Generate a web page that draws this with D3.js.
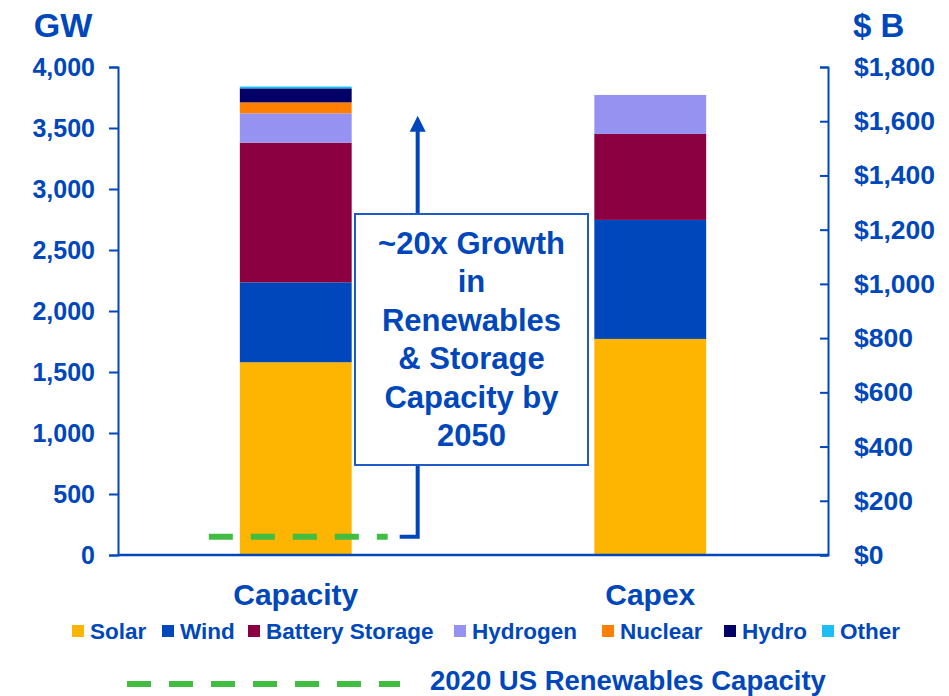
<!DOCTYPE html>
<html>
<head>
<meta charset="utf-8">
<script src="https://cdn.jsdelivr.net/npm/d3@7"></script>
<style>
  html, body { margin: 0; padding: 0; background: #fff; }
  svg { display: block; font-family: "Liberation Sans", Arial, sans-serif; font-weight: bold; }
</style>
</head>
<body>
<svg id="chart" width="949" height="696"></svg>
<script>
// ---- data ----
const categories = ["Capacity", "Capex"];
const seriesNames = ["Solar", "Wind", "Battery Storage", "Hydrogen", "Nuclear", "Hydro", "Other"];
const capacityGW = [1580, 655, 1145, 240, 90, 115, 15];
const capexB = [797, 439, 317, 144, 0, 0, 0];
const leftTicks = [0, 500, 1000, 1500, 2000, 2500, 3000, 3500, 4000];
const rightTicks = [0, 200, 400, 600, 800, 1000, 1200, 1400, 1600, 1800];
const renewables2020GW = [150];
const calloutLines = ["~20x Growth", "in", "Renewables", "& Storage", "Capacity by", "2050"];
const legendLineLabel = "2020 US Renewables Capacity";

const colors = {
  "Solar": "#FDB502",
  "Wind": "#0047BB",
  "Battery Storage": "#8B0041",
  "Hydrogen": "#9692F1",
  "Nuclear": "#FF7F00",
  "Hydro": "#000066",
  "Other": "#1DBFF3"
};
const blue = "#0047BB";
const green = "#41BD41";

const svg = d3.select("#chart");
const margin = { left: 118, right: 121, top: 67, bottom: 141 };
const W = 949, H = 696;
const x0 = margin.left, x1 = W - margin.right, yTop = margin.top, yBot = H - margin.bottom;

const x = d3.scaleBand().domain(categories).range([x0, x1]).paddingInner(0.6845).paddingOuter(0.3437);
const yL = d3.scaleLinear().domain([0, 4000]).range([yBot, yTop]);
const yR = d3.scaleLinear().domain([0, 1800]).range([yBot, yTop]);

// stacked bars
function drawStack(cat, values, scale) {
  let cum = 0;
  const segs = values.map((v, i) => { const s = { name: seriesNames[i], y0: cum, y1: cum + v }; cum += v; return s; })
    .filter(s => s.y1 > s.y0);
  svg.append("g").selectAll("rect").data(segs).join("rect")
    .attr("x", x(cat)).attr("width", x.bandwidth())
    .attr("y", d => scale(d.y1)).attr("height", d => scale(d.y0) - scale(d.y1))
    .attr("fill", d => colors[d.name]);
}
drawStack("Capacity", capacityGW, yL);
drawStack("Capex", capexB, yR);

// left axis
const axL = svg.append("g").attr("transform", `translate(${x0},0)`)
  .call(d3.axisLeft(yL).tickValues(leftTicks).tickFormat(d3.format(",")).tickSizeOuter(0).tickSize(9));
axL.select(".domain").attr("stroke", blue).attr("stroke-width", 2);
axL.selectAll(".tick line").attr("stroke", blue).attr("stroke-width", 2);
axL.selectAll(".tick text").attr("fill", blue).attr("font-size", 25).attr("font-weight", "bold")
  .attr("font-family", "Liberation Sans, Arial, sans-serif").attr("x", -23);

// right axis
const axR = svg.append("g").attr("transform", `translate(${x1},0)`)
  .call(d3.axisRight(yR).tickValues(rightTicks).tickFormat(d => "$" + d3.format(",")(d)).tickSizeOuter(0).tickSize(-8));
axR.select(".domain").attr("stroke", blue).attr("stroke-width", 2);
axR.selectAll(".tick line").attr("stroke", blue).attr("stroke-width", 2);
axR.selectAll(".tick text").attr("fill", blue).attr("font-size", 26.5).attr("font-weight", "bold")
  .attr("font-family", "Liberation Sans, Arial, sans-serif").attr("x", 26);

// baseline
svg.append("line").attr("x1", x0).attr("x2", x1).attr("y1", yBot).attr("y2", yBot)
  .attr("stroke", blue).attr("stroke-width", 2.5);

// unit titles
svg.append("text").attr("x", 63).attr("y", 37).attr("text-anchor", "middle")
  .attr("fill", blue).attr("font-size", 34).text("GW");
svg.append("text").attr("x", 853).attr("y", 37).attr("text-anchor", "start")
  .attr("fill", blue).attr("font-size", 33).text("$ B");

// category labels
svg.append("g").selectAll("text").data(categories).join("text")
  .attr("x", d => x(d) + x.bandwidth() / 2).attr("y", 605).attr("text-anchor", "middle")
  .attr("fill", blue).attr("font-size", 30).text(d => d);

// 2020 renewables dashed line + elbow arrow
const yLine = yL(renewables2020GW[0]);
const dashStart = x("Capacity") - 31;
const elbowX = x("Capacity") + x.bandwidth() + 66;
svg.append("line").attr("x1", dashStart).attr("x2", elbowX - 30).attr("y1", yLine).attr("y2", yLine)
  .attr("stroke", green).attr("stroke-width", 6).attr("stroke-dasharray", "24,18");
const arrowTopY = yL(3600);
svg.append("path")
  .attr("d", `M${elbowX - 18},${yLine} L${elbowX},${yLine} L${elbowX},${arrowTopY + 14}`)
  .attr("fill", "none").attr("stroke", blue).attr("stroke-width", 4);
svg.append("path")
  .attr("d", `M${elbowX},${arrowTopY} L${elbowX - 8},${arrowTopY + 16} L${elbowX + 8},${arrowTopY + 16} Z`)
  .attr("fill", blue);

// callout box
const boxX = 355, boxY = 214, boxW = 233, boxH = 251;
svg.append("rect").attr("x", boxX).attr("y", boxY).attr("width", boxW).attr("height", boxH)
  .attr("fill", "#fff").attr("stroke", "#1E5BC6").attr("stroke-width", 2);
svg.append("g").selectAll("text").data(calloutLines).join("text")
  .attr("x", boxX + boxW / 2).attr("y", (d, i) => 254 + i * 38.4).attr("text-anchor", "middle")
  .attr("fill", blue).attr("font-size", 31).text(d => d);

// legend row
const legendX = [72, 162, 248, 454, 602, 724, 822];
const lg = svg.append("g").selectAll("g").data(seriesNames).join("g")
  .attr("transform", (d, i) => `translate(${legendX[i]},625)`);
lg.append("rect").attr("width", 12).attr("height", 12).attr("fill", d => colors[d]);
lg.append("text").attr("x", 18).attr("y", 14).attr("fill", blue).attr("font-size", 22.5).text(d => d);

// second legend row (dashed line)
svg.append("line").attr("x1", 127).attr("x2", 400).attr("y1", 684).attr("y2", 684)
  .attr("stroke", green).attr("stroke-width", 6).attr("stroke-dasharray", "24,18");
svg.append("text").attr("x", 430).attr("y", 690).attr("fill", blue).attr("font-size", 27.5).text(legendLineLabel);
</script>
</body>
</html>
